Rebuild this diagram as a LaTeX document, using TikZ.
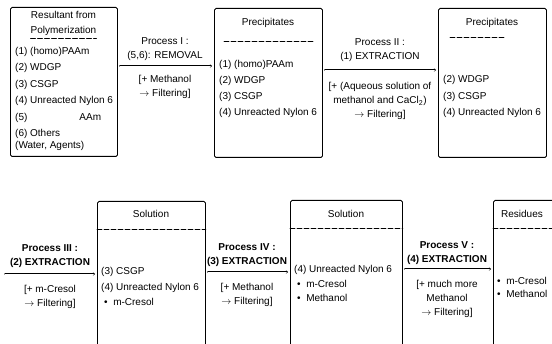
\documentclass[tikz,border=0pt]{standalone}
\usepackage{fontspec}
\setmainfont{Liberation Sans}
\usetikzlibrary{arrows.meta}

\begin{document}
\begin{tikzpicture}[x=1pt,y=-1pt,line cap=round,line join=round,
    every node/.style={font=\fontsize{10}{14}\selectfont,inner sep=0pt},
    stage/.style={draw,line width=.9pt,rounded corners=1.5pt,anchor=north west,minimum width=108,minimum height=149},
    entry/.style={anchor=west},
    proclabel/.style={align=center},
    bold label/.style={align=center,font=\fontsize{10}{14}\selectfont\bfseries},
    flow/.style={double,-{Implies},shorten <=2pt,shorten >=2pt},
    divider/.style={dash pattern=on 5pt off 2pt,line width=.6pt}]
    \def\topy{7}
    \def\boty{200}
    \def\tall{160}
    \clip (0,0) rectangle (552,344);
    % top row boxes
    \node[stage,minimum width=107] (res) at (10,\topy) {};
    \node[stage] (prec1) at (214,\topy+1) {};
    \node[stage] (prec2) at (438,\topy+1) {};
    % bottom row boxes
    \node[stage,minimum height=\tall] (sol1) at (97,\boty+1) {};
    \node[stage,minimum height=\tall,minimum width=112] (sol2) at (290,\boty) {};
    \node[stage,minimum height=\tall] (resid) at (493,\boty) {};
    % resultant
    \node (res title) at (63.5,15) {Resultant from};
    \node (res sub) at (63.5,31) {Polymerization};
    \draw[divider] ([yshift=-2.5pt]res sub.south west) -- ([yshift=-2.5pt]res sub.south east);
    \node[entry] (res1) at (15,52) {(1) (homo)PAAm};
    \node[entry] (res2) at (15,68) {(2) WDGP};
    \node[entry] (res3) at (15,85) {(3) CSGP};
    \node[entry] (res4) at (15,101) {(4) Unreacted Nylon 6};
    \node[entry] (res5) at (15,118) {(5)\hspace{52pt}AAm};
    \node[entry] (res6) at (15,134) {(6) Others};
    \node[entry] (res7) at (15,146) {(Water, Agents)};
    % process I
    \coordinate (a1) at (0,66);
    \draw[flow] (res.east |- a1) -- (prec1.west |- a1);
    \node[proclabel] (p1) at (165,49) {Process I :\\(5,6): REMOVAL};
    \node[proclabel] (n1) at (165,87) {[+ Methanol\\$\rightarrow$ Filtering]};
    % precipitates 1
    \node (prec1 title) at (268,23) {Precipitates};
    \draw[divider] (224,41) -- (313,41);
    \node[entry] (prec11) at (219,65) {(1) (homo)PAAm};
    \node[entry] (prec12) at (219,81) {(2) WDGP};
    \node[entry] (prec13) at (219,97) {(3) CSGP};
    \node[entry] (prec14) at (219,113) {(4) Unreacted Nylon 6};
    % process II
    \coordinate (a2) at (0,70);
    \draw[flow] (prec1.east |- a2) -- (prec2.west |- a2);
    \node[proclabel] (p2) at (380,50) {Process II :\\(1) EXTRACTION};
    \node[proclabel] (n2) at (380,101) {[+ (Aqueous solution of\\methanol and CaCl\textsubscript{2})\\$\rightarrow$ Filtering]};
    % precipitates 2
    \node (prec2 title) at (492,23) {Precipitates};
    \draw[divider] (450,37) -- (505,37);
    \node[entry] (prec22) at (443,80) {(2) WDGP};
    \node[entry] (prec23) at (443,97) {(3) CSGP};
    \node[entry] (prec24) at (443,113) {(4) Unreacted Nylon 6};
    % process III
    \coordinate (in3) at (3,274);
    \draw[flow] (in3) -- (sol1.west |- in3);
    \node[bold label] (p3) at (50,256) {Process III :\\(2) EXTRACTION};
    \node[proclabel] (n3) at (50,297) {[+ m-Cresol\\$\rightarrow$ Filtering]};
    % solution 1
    \node (sol1 title) at (151,214) {Solution};
    \draw[divider] (sol1.west |- 0,229) -- (sol1.east |- 0,229);
    \node[entry] (sol11) at (101,272) {(3) CSGP};
    \node[entry] (sol12) at (101,288) {(4) Unreacted Nylon 6};
    \node[entry] (sol13) at (104,302) {\textbullet\ \ m-Cresol};
    % process IV
    \coordinate (a4) at (0,272);
    \draw[flow] (sol1.east |- a4) -- (sol2.west |- a4);
    \node[bold label] (p4) at (247,255) {Process IV :\\(3) EXTRACTION};
    \node[proclabel] (n4) at (247,295) {[+ Methanol\\$\rightarrow$ Filtering]};
    % solution 2
    \node (sol2 title) at (346,214) {Solution};
    \draw[divider] (sol2.west |- 0,228) -- (sol2.east |- 0,228);
    \node[entry] (sol21) at (294,270) {(4) Unreacted Nylon 6};
    \node[entry] (sol22) at (297,284) {\textbullet\ \ m-Cresol};
    \node[entry] (sol23) at (297,298) {\textbullet\ \ Methanol};
    % process V
    \coordinate (a5) at (0,269);
    \draw[flow] (sol2.east |- a5) -- (resid.west |- a5);
    \node[bold label] (p5) at (447,253) {Process V :\\(4) EXTRACTION};
    \node[proclabel] (n5) at (447,299) {[+ much more\\Methanol\\$\rightarrow$ Filtering]};
    % residues
    \node (resid title) at (522,214) {Residues};
    \draw[divider] (resid.west |- 0,228) -- (resid.east |- 0,228);
    \node[entry] (resid1) at (497,281) {\textbullet\ \ m-Cresol};
    \node[entry] (resid2) at (497,294) {\textbullet\ \ Methanol};
\end{tikzpicture}
\end{document}
